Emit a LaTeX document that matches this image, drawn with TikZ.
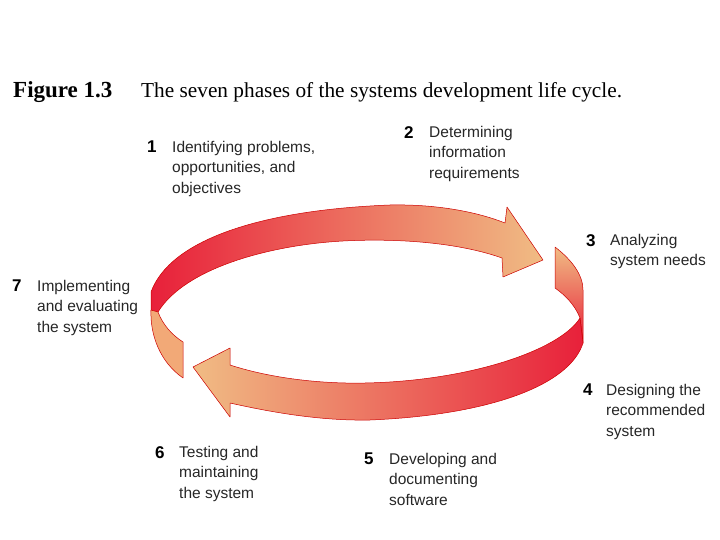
\documentclass[tikz,border=0pt]{standalone}
\usepackage{fontspec}
\setmainfont{Liberation Serif}
\newfontfamily\lab{Liberation Sans}
\begin{document}
\begin{tikzpicture}[x=1pt,y=-1pt,
  lbl/.style={anchor=north west,align=left,inner sep=0pt,font=\lab\fontsize{15.5}{20.5}\selectfont,text=black!85},
  num/.style={anchor=north west,inner sep=0pt,font=\lab\bfseries\fontsize{17}{20}\selectfont},
  rib/.style={draw=red!80!black,line width=0.5pt,line join=round}]
\useasboundingbox (0,0) rectangle (720,540);
\definecolor{rred}{HTML}{E8203A}
\definecolor{peach}{HTML}{F0BC84}
\node[anchor=base west,inner sep=0pt,font=\fontsize{23}{26}\selectfont\bfseries] (fig) at (13,98) {Figure 1.3};
\node[anchor=base west,inner sep=0pt,font=\fontsize{21.3}{24}\selectfont] (cap) at (141,98) {The seven phases of the systems development life cycle.};
% upper ribbon
\path[rib,left color=rred,right color=peach] (151,312) -- (151,292) .. controls (170,240) and (260,210) .. (390,205) .. controls (440,204) and (480,213) .. (505,223)
  -- (507,207) -- (543,260) -- (503,277) -- (502,258)
  .. controls (460,243) and (400,238) .. (343,241) .. controls (270,245) and (185,268) .. (158,312) -- cycle;
% left piece
\path[rib,fill=peach!90!red] (151,310) .. controls (150,335) and (160,362) .. (183,378) -- (183,342) .. controls (172,335) and (163,325) .. (158,312) -- cycle;
% right piece
\path[rib,top color=peach,bottom color=rred] (555,247) .. controls (572,260) and (583,275) .. (583,290) -- (583,343) -- (580,318) .. controls (575,305) and (565,295) .. (555,288) -- cycle;
% lower ribbon
\path[rib,left color=peach,right color=rred] (583,343) .. controls (570,385) and (490,415) .. (370,420) .. controls (320,421) and (270,412) .. (230,403)
  -- (230,417) -- (193,367) -- (230,348) -- (230,365)
  .. controls (270,378) and (320,384) .. (365,383) .. controls (470,381) and (560,350) .. (580,318) -- cycle;
% labels
\node[num] (n1) at (147,141) {1};
\node[lbl] (t1) at (172,141) {Identifying problems,\\opportunities, and\\objectives};
\node[num] (n2) at (404,126) {2};
\node[lbl] (t2) at (429,126) {Determining\\information\\requirements};
\node[num] (n3) at (586,234) {3};
\node[lbl] (t3) at (610,234) {Analyzing\\system needs};
\node[num] (n4) at (583,384) {4};
\node[lbl] (t4) at (606,384) {Designing the\\recommended\\system};
\node[num] (n5) at (364,453) {5};
\node[lbl] (t5) at (389,453) {Developing and\\documenting\\software};
\node[num] (n6) at (155,446) {6};
\node[lbl] (t6) at (179,446) {Testing and\\maintaining\\the system};
\node[num] (n7) at (12,280) {7};
\node[lbl] (t7) at (37,280) {Implementing\\and evaluating\\the system};
\end{tikzpicture}
\end{document}
